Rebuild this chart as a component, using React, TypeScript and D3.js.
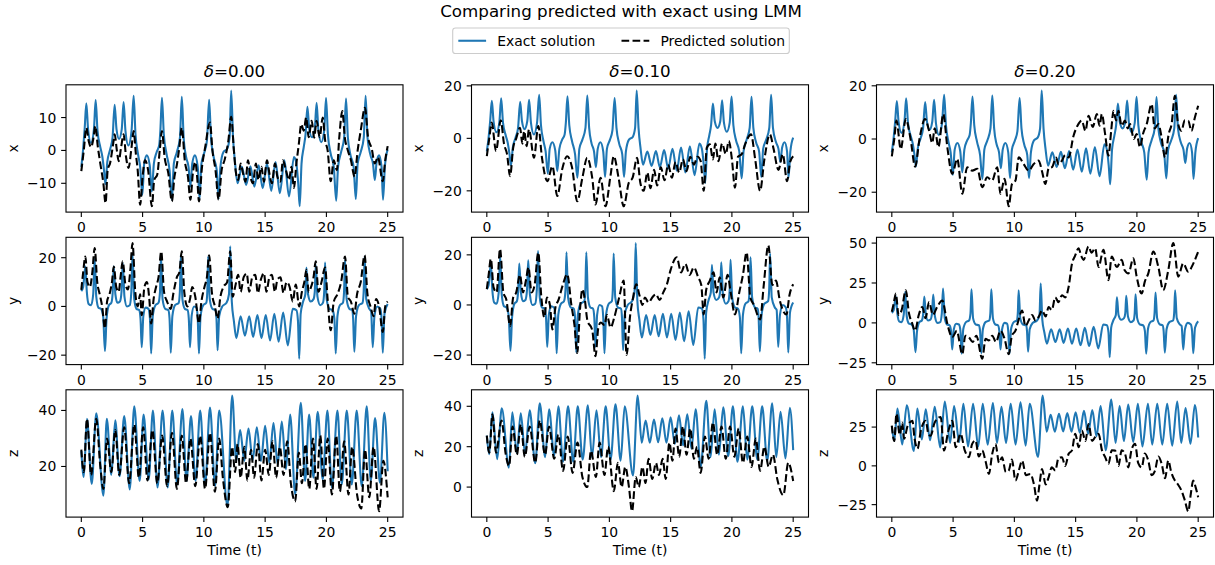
import React from "react";
import * as d3 from "d3";

type Pt = [number, number];

// tick labels / categories
const timeTicks = [0, 5, 10, 15, 20, 25];
const deltaLabels = ["0.00", "0.10", "0.20"];
const compNames = ["x", "y", "z"];
const ticksByRow = [
  [[-10, 0, 10], [-20, 0, 20], [-20, 0, 20]],
  [[-20, 0, 20], [-20, 0, 20], [-25, 0, 25, 50]],
  [[20, 40], [0, 20, 40], [-25, 0, 25]],
];

// exact solution (same in every column), [t, value]
const exactX: Pt[] = [
  [0, -5.0], [0.15, 0.5], [0.28, 7], [0.41, 14.3], [0.55, 6.5], [0.79, 2.3], [1.03, 6.5], [1.17, 15.3], [1.32, 6],
  [1.55, 1], [1.72, -2], [1.85, -6], [1.97, -10.3], [2.12, -3.5], [2.35, 0.3], [2.55, 4], [2.72, 13.9], [2.87, 6.5],
  [3.08, 3.5], [3.3, 6.5], [3.45, 14.7], [3.6, 6], [3.84, 1.5], [4.1, 6], [4.27, 16.6], [4.42, 5], [4.62, -1],
  [4.8, -5], [4.98, -13.5], [5.13, -4], [5.35, -1.5], [5.58, -4.5], [5.75, -12.5], [5.92, -4], [6.15, -0.5],
  [6.35, 1.5], [6.45, 6], [6.58, 16], [6.73, 5], [6.95, -1], [7.2, -6], [7.39, -15], [7.55, -4], [7.8, -0.5],
  [8.05, 4], [8.2, 16.3], [8.35, 4], [8.55, -2], [8.75, -5], [8.9, -11], [9.05, -4], [9.27, -1.5], [9.5, -5],
  [9.65, -14.7], [9.8, -4], [10.05, -0.5], [10.25, 3], [10.43, 15.4], [10.58, 4], [10.8, -2], [11.05, -6],
  [11.2, -14.7], [11.35, -5], [11.6, -0.5], [11.9, 0.5], [12.1, 4], [12.23, 18.2], [12.38, 4], [12.55, -4],
  [12.75, -10], [13.1, -5], [13.45, -10.5], [13.8, -4.8], [14.12, -11], [14.47, -4.5], [14.8, -11.5], [15.15, -4],
  [15.5, -12.3], [15.85, -3.5], [16.2, -13], [16.57, -3], [16.95, -14], [17.35, -2], [17.55, -4], [17.7, -10],
  [17.82, -17], [17.97, -4], [18.15, 1], [18.3, 5], [18.45, 13.3], [18.6, 6.5], [18.83, 4], [19.05, 6.5],
  [19.2, 14.5], [19.35, 6], [19.58, 2.5], [19.82, 6], [19.97, 15.9], [20.12, 5], [20.35, -1], [20.6, -5],
  [20.8, -15.3], [20.95, -5], [21.2, -0.5], [21.45, 4], [21.6, 15.8], [21.75, 4], [21.97, -1.5], [22.22, -5],
  [22.4, -14.8], [22.55, -4], [22.8, -0.5], [23.05, 4], [23.2, 16.6], [23.35, 4], [23.6, -1.5], [23.8, -4],
  [23.95, -9], [24.1, -3.5], [24.3, -1.5], [24.5, -5], [24.62, -15], [24.77, -5], [25.0, 0.3],
];

const exactY: Pt[] = [
  [0, 6.3], [0.15, 8], [0.33, 16.5], [0.45, 6], [0.6, 1], [0.8, 0.5], [0.97, 5], [1.09, 19.5], [1.22, 4],
  [1.4, -0.5], [1.6, -1], [1.78, -4], [1.93, -18.3], [2.06, -5], [2.25, 0.5], [2.45, 1.5], [2.55, 5], [2.65, 16.5],
  [2.78, 5], [2.95, 1.5], [3.15, 2], [3.28, 6], [3.38, 17.8], [3.52, 4], [3.72, 0], [3.95, 0.5], [4.08, 6],
  [4.18, 21.5], [4.32, 3], [4.5, -1], [4.72, -1.5], [4.83, -5], [4.93, -16.7], [5.06, -4], [5.25, -0.5],
  [5.48, -1], [5.6, -5], [5.7, -19.3], [5.83, -4], [6.05, 0.5], [6.3, 1.5], [6.42, 6], [6.5, 21], [6.63, 3],
  [6.85, -1], [7.1, -1.5], [7.2, -5], [7.3, -19], [7.43, -4], [7.65, 0.5], [7.95, 1.5], [8.04, 6], [8.12, 21],
  [8.25, 3], [8.45, -1], [8.67, -1.5], [8.77, -5], [8.87, -16.7], [9.0, -4], [9.2, 0], [9.4, -0.5], [9.5, -5],
  [9.6, -19.3], [9.73, -4], [9.95, 0.5], [10.2, 1.5], [10.28, 6], [10.35, 20.5], [10.48, 3], [10.7, -1],
  [10.95, -1.5], [11.03, -5], [11.12, -18], [11.25, -4], [11.5, 0], [11.85, 1.5], [12.05, 5], [12.15, 24.7],
  [12.28, 2], [12.45, -6], [12.65, -13], [13.0, -4], [13.35, -12], [13.7, -4], [14.02, -12.5], [14.37, -3.5],
  [14.7, -13], [15.05, -3.5], [15.4, -14], [15.75, -3], [16.1, -14.5], [16.47, -2.5], [16.85, -16], [17.25, -1],
  [17.55, -1.5], [17.68, -6], [17.78, -21.5], [17.9, -3], [18.1, 2], [18.28, 5], [18.37, 16], [18.5, 5],
  [18.72, 2], [18.95, 3], [19.05, 6], [19.13, 17], [19.27, 4], [19.5, 0.5], [19.72, 1.5], [19.82, 6], [19.89, 18],
  [20.02, 3], [20.25, -1], [20.5, -1.5], [20.65, -5], [20.76, -19.3], [20.9, -4], [21.1, 0.5], [21.35, 1.5],
  [21.44, 6], [21.52, 19], [21.65, 3], [21.88, -1], [22.1, -1.5], [22.18, -5], [22.28, -18.6], [22.42, -4],
  [22.65, 0.5], [22.95, 1.5], [23.04, 6], [23.12, 20.5], [23.25, 3], [23.5, -1], [23.65, -2], [23.78, -16.7],
  [23.92, -4], [24.15, 0], [24.4, -1], [24.5, -5], [24.6, -19], [24.74, -3], [25.0, 1],
];

const exactZ: Pt[] = [
  [0, 25.5], [0.2, 16.3], [0.46, 37], [0.85, 13.8], [1.22, 39], [1.8, 9.6], [2.08, 37], [2.45, 17], [2.77, 36.5],
  [3.12, 16.5], [3.5, 38], [3.95, 11.8], [4.32, 41.5], [4.76, 14.8], [5.08, 38.5], [5.5, 15.4], [5.84, 40],
  [6.22, 12.5], [6.63, 40], [7.05, 12.5], [7.42, 40], [7.82, 13.6], [8.25, 40.5], [8.58, 14.8], [8.95, 38],
  [9.32, 14.8], [9.7, 40], [10.1, 13.6], [10.5, 41], [10.92, 13], [11.25, 40], [11.93, 5.8], [12.31, 45.3],
  [12.64, 22], [12.96, 33], [13.3, 22], [13.64, 33.5], [13.98, 22.2], [14.32, 34], [14.66, 22], [15.0, 34.5],
  [15.34, 21.3], [15.68, 35.5], [16.02, 20.7], [16.36, 36], [16.7, 19], [17.04, 38.5], [17.45, 10], [17.91, 42.7],
  [18.26, 14.8], [18.59, 38.5], [18.94, 16], [19.29, 39.5], [19.7, 15.4], [20.08, 40], [20.45, 12.5], [20.9, 40],
  [21.25, 13.6], [21.66, 40], [22.07, 13.6], [22.47, 40], [22.88, 13], [23.29, 41.5], [23.62, 14.8], [23.97, 37.3],
  [24.37, 14.2], [24.73, 39.2], [25, 18.3],
];

// predicted, delta = 0.00
const predX0: Pt[] = [
  [0, -6.3], [0.2, 0], [0.41, 6.9], [0.6, 2.9], [0.8, 1], [1.0, 4], [1.14, 7.4], [1.35, 1], [1.55, -4], [1.8, -10],
  [1.98, -16], [2.15, -6], [2.35, -3.8], [2.6, 2], [2.72, 4.9], [2.9, 0], [3.05, -3.3], [3.25, 1], [3.45, 4.9],
  [3.65, -2], [3.85, -5.3], [4.1, 1], [4.27, 5.9], [4.45, -1], [4.6, -6], [4.8, -16.5], [5.0, -8], [5.2, -3],
  [5.45, -6], [5.76, -17], [5.95, -9], [6.2, -7.3], [6.4, 0], [6.58, 5.9], [6.8, -2.2], [7.1, -7], [7.39, -15.5],
  [7.6, -8], [7.8, -4.3], [8.0, 1], [8.2, 6.9], [8.45, -3.3], [8.7, -8], [8.9, -15], [9.1, -7], [9.3, -3.5],
  [9.45, -8], [9.6, -15.5], [9.85, -5], [10.1, 0.8], [10.5, 8.5], [10.7, 0], [10.95, -6], [11.2, -15], [11.45, -6],
  [11.7, -2.8], [12.0, 3], [12.23, 10.2], [12.45, 0], [12.6, -6.3], [12.8, -9], [13.0, -4], [13.2, -7], [13.4, -9.5],
  [13.6, -3], [13.8, -8], [14.0, -10], [14.25, -4], [14.45, -9], [14.7, -5], [14.9, -9.5], [15.15, -3], [15.35, -7],
  [15.55, -10], [15.8, -4], [16.0, -8], [16.25, -9.5], [16.45, -3], [16.7, -6], [16.95, -9], [17.15, -5],
  [17.35, -11.4], [17.55, -4], [17.75, 2], [17.95, 8], [18.15, 6], [18.35, 10], [18.55, 4], [18.8, 9], [19.0, 3.9],
  [19.2, 9], [19.45, 4], [19.7, 10], [19.9, 3], [20.1, 0], [20.35, -9.4], [20.6, -3], [20.85, -6], [21.05, 4],
  [21.3, 12], [21.5, 4], [21.75, 0], [22.0, -3], [22.3, -8], [22.55, 0], [22.8, 6], [23.15, 13], [23.4, 4],
  [23.7, 0.5], [23.95, -4], [24.2, -2], [24.6, -9.4], [24.8, -3], [25, 1.3],
];

const predY0: Pt[] = [
  [0, 6.8], [0.15, 14], [0.33, 20.5], [0.5, 10], [0.7, 8], [0.9, 14], [1.09, 24], [1.3, 10], [1.5, 5], [1.7, 0],
  [1.93, -9], [2.1, 2], [2.3, 5], [2.5, 10], [2.65, 16.4], [2.85, 8], [3.05, 6], [3.2, 12], [3.38, 18.5], [3.6, 9],
  [3.8, 7], [4.0, 15], [4.18, 26], [4.4, 6], [4.6, 0], [4.8, 5], [4.93, -3.6], [5.15, 8], [5.35, 10], [5.55, 3],
  [5.7, -7], [5.9, 3], [6.1, 8], [6.3, 12], [6.52, 22.6], [6.75, 6], [7.0, 2], [7.3, -1], [7.5, 5], [7.8, 12],
  [8.0, 14], [8.2, 22.6], [8.4, 6], [8.65, 0], [8.87, 3], [9.05, 8], [9.3, 4], [9.6, -7], [9.8, 2], [10.05, 8],
  [10.25, 12], [10.43, 21], [10.65, 6], [10.9, 0], [11.12, -5], [11.35, 4], [11.6, 8], [11.9, 10], [12.15, 22.6],
  [12.35, 4], [12.55, 8], [12.8, 13], [13.0, 6], [13.25, 12], [13.5, 13.5], [13.7, 6], [13.95, 12], [14.2, 13],
  [14.4, 5.5], [14.65, 11], [14.9, 13.7], [15.1, 6], [15.35, 12], [15.55, 13], [15.8, 6], [16.0, 11], [16.25, 12],
  [16.5, 5.5], [16.75, 10], [17.0, 8], [17.25, 2], [17.5, 9], [17.78, 0], [18.0, 6], [18.2, 10], [18.37, 15],
  [18.55, 6], [18.75, 8], [18.95, 12], [19.13, 18.5], [19.35, 6], [19.6, 10], [19.89, 16], [20.1, 3], [20.35, -9.8],
  [20.6, 2], [20.9, 5], [21.2, 10], [21.52, 20.5], [21.75, 4], [22.0, 2], [22.28, -3], [22.5, 5], [22.8, 10],
  [23.12, 21], [23.35, 5], [23.6, 0], [23.85, -4], [24.05, 3], [24.3, 0], [24.6, -10.5], [24.8, 0], [25, 2],
];

const predZ0: Pt[] = [
  [0, 26], [0.2, 18], [0.46, 37], [0.8, 17], [1.22, 37], [1.55, 20], [1.8, 12], [2.1, 30], [2.45, 18], [2.77, 33],
  [3.1, 17], [3.5, 34], [3.9, 14], [4.32, 35], [4.7, 16], [5.05, 34], [5.4, 15], [5.8, 33], [6.2, 14], [6.6, 31],
  [7.0, 13], [7.4, 32], [7.8, 12], [8.2, 31], [8.55, 14], [8.9, 30], [9.3, 13], [9.7, 31], [10.1, 12], [10.5, 32],
  [10.9, 11], [11.25, 30], [11.55, 16], [11.95, 5.5], [12.3, 27], [12.55, 18], [12.75, 28], [13.0, 16], [13.3, 27],
  [13.55, 15], [13.85, 26], [14.1, 16], [14.4, 28], [14.7, 15], [15.0, 26], [15.3, 17], [15.6, 29], [15.9, 16],
  [16.2, 27], [16.5, 17], [16.8, 29], [17.1, 14], [17.45, 7.5], [17.75, 25], [18.0, 14], [18.3, 28], [18.6, 12],
  [18.9, 30], [19.2, 12], [19.5, 31], [19.8, 12], [20.1, 30], [20.45, 10], [20.8, 31], [21.1, 11], [21.45, 29],
  [21.8, 10], [22.1, 27], [22.5, 10], [22.85, 5], [23.15, 26], [23.5, 9], [23.85, 27], [24.3, 4], [24.65, 22], [25, 9],
];

// predicted, delta = 0.10
const predX1: Pt[] = [
  [0, -6.8], [0.2, 0], [0.4, 6], [0.75, -4.8], [1.14, 6.9], [1.4, -2], [1.65, -6], [1.9, -14.4], [2.15, -3.6],
  [2.4, 0], [2.71, 4], [2.9, -2], [3.05, 2.8], [3.25, -3], [3.44, 3.4], [3.85, -7.4], [4.2, 4.7], [4.5, -7.4],
  [4.94, -16.3], [5.35, -10.6], [5.75, -22], [6.15, -11.8], [6.56, -6.8], [6.95, -11], [7.38, -24], [7.8, -15],
  [8.19, -7.4], [8.6, -15], [8.87, -25.2], [9.28, -15], [9.68, -25.9], [10.1, -14], [10.36, -6.8], [10.75, -15],
  [11.17, -25.9], [11.58, -17], [11.9, -15], [12.26, -7.4], [12.53, -17], [12.8, -20], [13.1, -13], [13.35, -19],
  [13.65, -12], [13.9, -18], [14.2, -11], [14.5, -16], [14.8, -10], [15.1, -15], [15.4, -9], [15.7, -13], [16.0, -8],
  [16.3, -12.5], [16.6, -7], [16.9, -10], [17.2, -7], [17.45, -8.7], [17.7, -20], [17.95, -3.6], [18.2, -2.3],
  [18.45, -8], [18.65, -2], [18.9, -8.7], [19.2, -2], [19.5, -6], [19.75, -1], [20.0, -8], [20.25, -18.8],
  [20.5, -7], [20.8, -6], [21.1, -2], [21.56, 1.5], [21.9, -8], [22.3, -20], [22.65, -8], [23.1, 1.5], [23.4, -4],
  [23.8, -12], [24.15, -6], [24.5, -16.3], [24.75, -9], [25, -6.8],
];

const predY1: Pt[] = [
  [0, 6.3], [0.15, 12], [0.33, 18.4], [0.55, 7], [0.8, 5], [1.08, 22.4], [1.35, 5], [1.6, 2], [1.9, -8.5],
  [2.15, 3], [2.4, 5], [2.7, 12], [2.95, 5], [3.2, 10], [3.4, 15], [3.65, 5], [3.9, 8], [4.2, 21], [4.45, 3],
  [4.7, -5], [4.9, 3], [5.15, 0], [5.35, -9.8], [5.6, -1], [5.85, 2], [6.2, 8], [6.56, 12.3], [6.9, 0], [7.15, -8],
  [7.38, -19.2], [7.6, -2], [7.8, 6.3], [8.0, 2], [8.2, -6], [8.6, -10], [8.87, -20.5], [9.1, -9], [9.3, -7],
  [9.6, -8], [9.8, -4], [10.1, -9], [10.4, -5], [10.8, 3], [11.17, 9.7], [11.4, -19.9], [11.7, -4], [11.9, 2],
  [12.2, 8.3], [12.45, 4], [12.7, 0], [12.9, 3], [13.2, 1], [13.5, 3], [13.8, 4.3], [14.1, 2], [14.4, 5],
  [14.7, 8.3], [15.0, 14], [15.5, 19], [15.85, 13], [16.2, 16.4], [16.55, 12], [16.9, 15], [17.25, 11], [17.5, 8],
  [17.7, -3.8], [17.9, 6], [18.2, 9.7], [18.5, 13], [18.75, 5], [19.0, 11], [19.3, 3], [19.65, 12], [19.9, 5],
  [20.25, -3.8], [20.6, 5], [20.9, 12], [21.2, 21], [21.5, 3], [21.8, 0], [22.3, -5.8], [22.6, 8], [22.97, 23.8],
  [23.3, 8], [23.6, 9.7], [23.9, 2], [24.45, -3.8], [24.7, 4], [25, 8.3],
];

const predZ1: Pt[] = [
  [0, 25.5], [0.2, 17], [0.46, 36], [0.75, 17], [1.2, 33], [1.55, 16], [1.82, 10.5], [2.1, 30], [2.45, 16],
  [2.77, 31], [3.1, 15], [3.5, 30], [3.95, 12], [4.32, 33], [4.75, 16], [5.08, 30], [5.5, 14], [5.84, 26],
  [6.22, 8], [6.6, 25], [7.0, 7], [7.4, 22], [7.8, 5], [8.2, 0], [8.5, 18], [8.9, 5], [9.2, 22], [9.6, 6],
  [9.9, 20], [10.36, -2], [10.7, 12], [11.0, 0], [11.3, 10], [11.6, 0], [11.85, -12], [12.15, 5], [12.4, 0],
  [12.7, 10], [12.95, 2], [13.2, 14], [13.5, 4], [13.8, 12], [14.05, 6], [14.35, 14], [14.6, 4], [14.9, 22],
  [15.15, 13], [15.4, 29], [15.7, 15], [16.0, 30], [16.3, 16], [16.6, 29], [16.9, 14], [17.15, 20], [17.45, 7],
  [17.8, 25], [18.1, 14], [18.45, 32], [18.8, 16], [19.15, 30], [19.5, 14], [19.85, 30], [20.2, 15], [20.55, 29],
  [20.9, 12], [21.25, 25], [21.6, 10], [21.95, 24], [22.3, 8], [22.65, 20], [23.0, 10], [23.35, 16], [23.7, 4],
  [24.2, -4], [24.6, 12], [25, 3],
];

// predicted, delta = 0.20
const predX2: Pt[] = [
  [0, -6.5], [0.2, 0], [0.38, 6.9], [0.73, -3.8], [1.14, 7.5], [1.55, -0.6], [1.9, -10.4], [2.28, 0.6],
  [2.71, 7.5], [3.04, 3.1], [3.3, -1.5], [3.5, 4], [3.8, -3], [4.2, 9.4], [4.53, -3.1], [4.93, -13.1],
  [5.34, -7.5], [5.75, -20.6], [6.15, -10.6], [6.56, -11.9], [6.97, -11.2], [7.38, -18.1], [7.78, -14.4],
  [8.19, -15.6], [8.6, -10.6], [8.87, -20.6], [9.2, -15], [9.54, -25.3], [9.8, -17], [10.09, -15.6], [10.36, -6.9],
  [10.76, -9.4], [11.17, -11.9], [11.58, -9.4], [11.98, -8.1], [12.25, -12], [12.53, -16.9], [12.8, -11],
  [13.07, -10.6], [13.4, -7], [13.6, -9.5], [13.88, -8.1], [14.15, -6], [14.43, -6.9], [14.83, 1.25], [15.15, 5],
  [15.5, 6.9], [15.8, 3], [16.05, 8.75], [16.4, 4.5], [16.73, 9.4], [16.95, 5], [17.14, 9.4], [17.4, 2],
  [17.68, -6.25], [17.9, 3], [18.09, 10.6], [18.3, 7], [18.49, 10.6], [18.75, 5], [19.03, 6.9], [19.25, 4],
  [19.44, 5.6], [19.75, 0], [19.98, 1.9], [20.25, -3.1], [20.5, 2], [20.8, 5.6], [21.2, 13.1], [21.45, 4],
  [21.75, 5.6], [22.0, 1], [22.29, -6.9], [22.6, 2], [22.83, 5.6], [23.1, 16.25], [23.35, 6], [23.64, 3.1],
  [23.9, 7], [24.19, 6.9], [24.45, 3], [24.73, 8.1], [25, 12.5],
];

const predY2: Pt[] = [
  [0, 7], [0.15, 12], [0.33, 18.4], [0.55, 5], [0.8, 8], [1.14, 20.5], [1.4, 6], [1.65, 0], [1.9, -4.9], [2.2, 5],
  [2.49, 10], [2.75, 3], [3.04, 13], [3.35, 5], [3.7, 10], [4.12, 14], [4.53, -0.6], [4.93, -9], [5.3, -5],
  [5.75, -19.6], [6.0, -8], [6.29, -9], [6.6, -12], [6.9, -8], [7.38, -22.5], [7.65, -10], [7.92, -11], [8.2, -8],
  [8.5, -12], [8.87, -4.9], [9.2, -10], [9.54, -19.6], [9.8, -8], [10.09, -4.9], [10.35, 2], [10.63, 7.8],
  [10.9, -2], [11.17, 1.5], [11.45, 5], [11.71, 1.5], [12.0, 4], [12.26, 7.8], [12.55, 4], [12.8, 10], [13.05, 8],
  [13.34, 16], [13.6, 13], [13.88, 17.3], [14.15, 16], [14.43, 22.6], [14.7, 37], [14.95, 42], [15.24, 46.8],
  [15.45, 42], [15.65, 39.5], [16.05, 47.9], [16.3, 44], [16.59, 46.8], [16.87, 35], [17.27, 45.8], [17.68, 26.8],
  [17.95, 41.6], [18.36, 35], [18.76, 39.5], [19.0, 33], [19.31, 31], [19.71, 40.5], [19.98, 29], [20.39, 18.4],
  [20.65, 26], [20.93, 31], [21.34, 44.7], [21.75, 35], [22.15, 20.5], [22.56, 33], [22.97, 50], [23.37, 29],
  [23.78, 37.3], [24.19, 32], [24.59, 37], [25, 44.7],
];

const predZ2: Pt[] = [
  [0, 26], [0.2, 16], [0.38, 33.6], [0.65, 20], [0.85, 28], [1.0, 17.5], [1.3, 26], [1.68, 29], [1.85, 18],
  [2.09, 11], [2.4, 24], [2.77, 29], [3.0, 20], [3.17, 19.4], [3.5, 28], [3.99, 31.5], [4.26, 9.9], [4.6, 22],
  [4.94, 29], [5.21, 12], [5.61, 20.7], [5.95, 10], [6.29, 5.6], [6.55, 14], [6.83, 16.4], [7.1, 6], [7.38, 9.9],
  [7.65, 3], [7.92, -5.2], [8.2, 8], [8.46, 14], [8.75, 2], [9.0, 5.6], [9.3, -4], [9.54, -3], [9.8, 4],
  [10.09, -9.5], [10.4, -2], [10.63, 3.4], [10.95, -6], [11.31, -5.2], [11.6, -12], [11.85, -22.4], [12.05, -12],
  [12.26, -2], [12.55, -12], [12.8, -7.3], [13.05, -1], [13.34, -3], [13.6, 5], [13.88, 5.6], [14.15, 0],
  [14.43, 7.8], [14.7, 10], [14.97, 20.7], [15.25, 12], [15.51, 22.8], [15.8, 16], [16.05, 27], [16.35, 16],
  [16.59, 18.5], [16.87, 20.7], [17.15, 10], [17.41, 5.6], [17.68, 1.3], [17.95, 10], [18.22, 9.9], [18.5, 0],
  [18.75, 10], [19.03, 7.8], [19.3, -1], [19.55, 10], [19.85, 14.2], [20.1, 2], [20.39, -1], [20.65, 8],
  [20.93, 3.4], [21.2, -6], [21.48, -3], [21.75, 6], [22.02, 1.3], [22.3, -8], [22.56, 3.4], [22.8, -4],
  [23.1, -9.5], [23.35, -12], [23.64, -16], [23.9, -22], [24.19, -29.3], [24.4, -18], [24.59, -9.5], [24.8, -14],
  [25, -20.3],
];

const exactSeries = [exactX, exactY, exactZ];
const predSeries = [
  [predX0, predY0, predZ0],
  [predX1, predY1, predZ1],
  [predX2, predY2, predZ2],
];

// layout
const W = 1215;
const H = 565;
const colLeft = [66, 471.5, 876.5];
const rowTop = [84.8, 237.3, 389.8];
const panelW = 337;
const panelH = 127.3;
const font = "DejaVu Sans, sans-serif";
const blue = "#1f77b4";
const tickLen = 4.86;
const tickPad = 4.86;

const fmt = (v: number) => (v < 0 ? "\u2212" + Math.abs(v) : String(v));

function Panel({ col, row }: { col: number; row: number }) {
  const left = colLeft[col];
  const top = rowTop[row];
  const bottom = top + panelH;
  const exact = exactSeries[row];
  const pred = predSeries[col][row];
  const ext = d3.extent([...exact, ...pred], (d) => d[1]) as [number, number];
  const pad = (ext[1] - ext[0]) * 0.05;

  const x = d3.scaleLinear().domain([-1.25, 26.25]).range([left, left + panelW]);
  const y = d3.scaleLinear().domain([ext[0] - pad, ext[1] + pad]).range([bottom, top]);
  const line = d3
    .line<Pt>()
    .x((d) => x(d[0]))
    .y((d) => y(d[1]))
    .curve(d3.curveMonotoneX);

  const clipId = `clip-${col}-${row}`;
  const yTicks = ticksByRow[row][col];

  return (
    <g>
      <defs>
        <clipPath id={clipId}>
          <rect x={left} y={top} width={panelW} height={panelH} />
        </clipPath>
      </defs>
      <rect x={left} y={top} width={panelW} height={panelH} fill="white" />
      <g clipPath={`url(#${clipId})`}>
        <path d={line(exact) || ""} fill="none" stroke={blue} strokeWidth={2.08} strokeLinejoin="round" />
        <path
          d={line(pred) || ""}
          fill="none"
          stroke="black"
          strokeWidth={2.08}
          strokeDasharray="7.7 3.33"
        />
      </g>
      <rect x={left} y={top} width={panelW} height={panelH} fill="none" stroke="black" strokeWidth={1.1} />

      {timeTicks.map((t) => (
        <g key={"xt" + t}>
          <line x1={x(t)} x2={x(t)} y1={bottom} y2={bottom + tickLen} stroke="black" strokeWidth={1.1} />
          <text
            x={x(t)}
            y={bottom + tickLen + tickPad + 10.4}
            fontSize={13.9}
            fontFamily={font}
            textAnchor="middle"
            fill="#000"
          >
            {t}
          </text>
        </g>
      ))}

      {yTicks.map((v) => (
        <g key={"yt" + v}>
          <line x1={left - tickLen} x2={left} y1={y(v)} y2={y(v)} stroke="black" strokeWidth={1.1} />
          <text
            x={left - tickLen - tickPad}
            y={y(v) + 5}
            fontSize={13.9}
            fontFamily={font}
            textAnchor="end"
            fill="#000"
          >
            {fmt(v)}
          </text>
        </g>
      ))}

      <text
        transform={`translate(${left - 48.5},${top + panelH / 2}) rotate(-90)`}
        fontSize={13.9}
        fontFamily={font}
        textAnchor="middle"
        fill="#000"
      >
        {compNames[row]}
      </text>

      {row === 0 && (
        <text x={left + panelW / 2} y={top - 8.3} fontSize={16.7} fontFamily={font} textAnchor="middle" fill="#000">
          <tspan fontStyle="italic">δ</tspan>={deltaLabels[col]}
        </text>
      )}

      {row === 2 && (
        <text x={left + panelW / 2} y={bottom + 37.5} fontSize={13.9} fontFamily={font} textAnchor="middle" fill="#000">
          Time (t)
        </text>
      )}
    </g>
  );
}

function Legend() {
  const y0 = 28;
  const h = 25.5;
  const cy = y0 + h / 2;
  return (
    <g>
      <rect x={452.7} y={y0} width={336.6} height={h} rx={2.8} fill="white" fillOpacity={0.8} stroke="#cccccc" strokeWidth={1.1} />
      <line x1={458.3} x2={486.1} y1={cy} y2={cy} stroke={blue} strokeWidth={2.08} />
      <text x={497.2} y={cy + 5} fontSize={13.9} fontFamily={font} fill="#000">
        Exact solution
      </text>
      <line x1={621.5} x2={649.3} y1={cy} y2={cy} stroke="black" strokeWidth={2.08} strokeDasharray="7.7 3.33" />
      <text x={660.4} y={cy + 5} fontSize={13.9} fontFamily={font} fill="#000">
        Predicted solution
      </text>
    </g>
  );
}

export default function App() {
  const cells: { col: number; row: number }[] = [];
  for (let row = 0; row < 3; row++) for (let col = 0; col < 3; col++) cells.push({ col, row });
  return (
    <div style={{ position: "absolute", left: 0, top: 0 }}>
      <svg width={W} height={H} viewBox={`0 0 ${W} ${H}`} style={{ display: "block", background: "white" }}>
        <rect width={W} height={H} fill="white" />
        <text x={621} y={17} fontSize={16.7} fontFamily={font} textAnchor="middle" fill="#000">
          Comparing predicted with exact using LMM
        </text>
        <Legend />
        {cells.map((c) => (
          <Panel key={`${c.col}-${c.row}`} col={c.col} row={c.row} />
        ))}
      </svg>
    </div>
  );
}
